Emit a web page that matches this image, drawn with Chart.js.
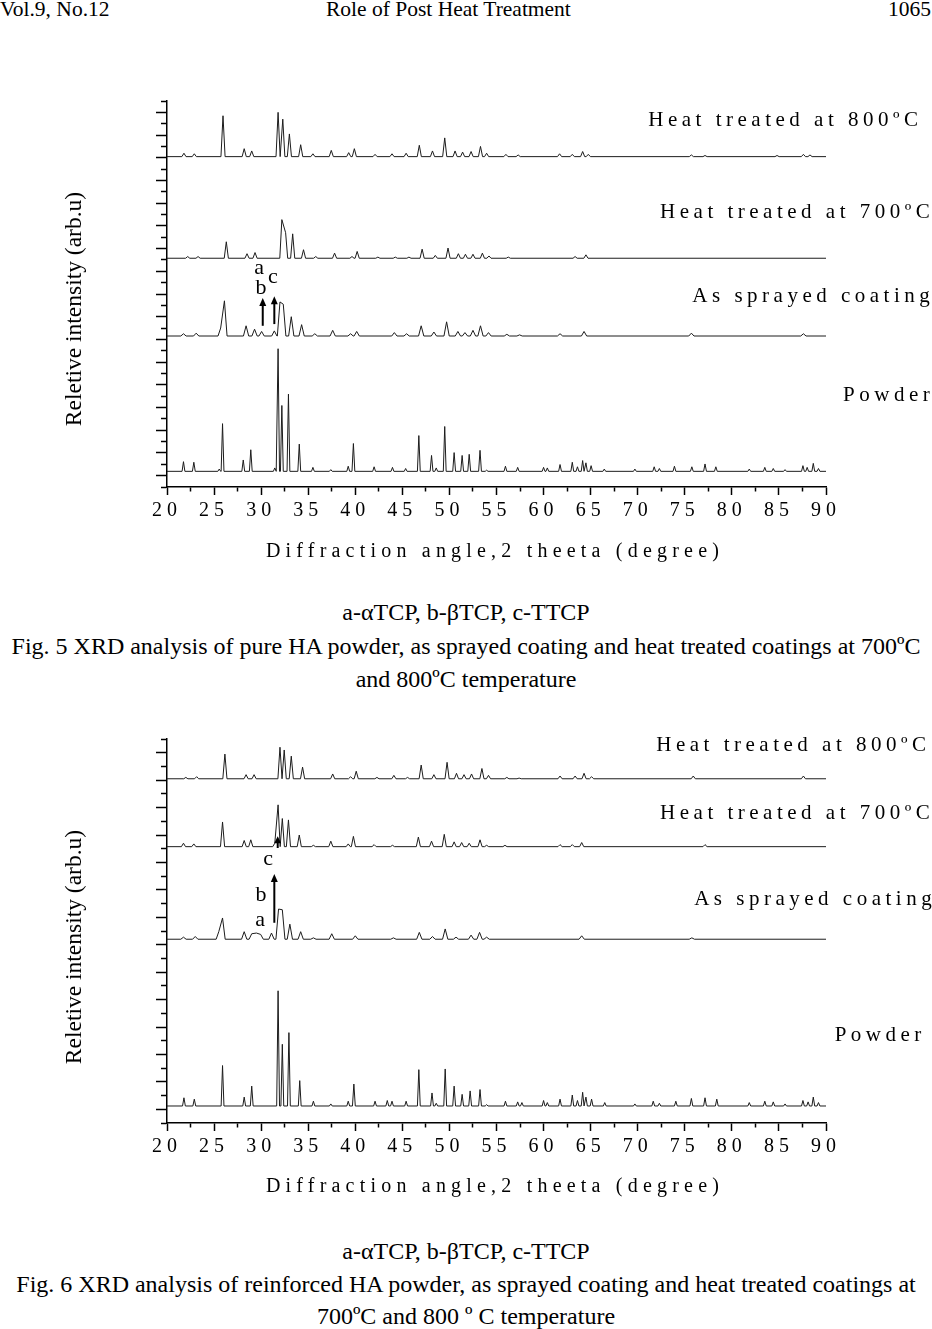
<!DOCTYPE html>
<html>
<head>
<meta charset="utf-8">
<script src="https://cdn.jsdelivr.net/npm/chart.js@4.4.0/dist/chart.umd.min.js"></script>
<style>
    html, body { margin: 0; padding: 0; background: #fff; }
    body {
        width: 932px; height: 1329px; position: relative; overflow: hidden;
        font-family: "Liberation Serif", "Times New Roman", serif; color: #000;
    }
    .txt { position: absolute; white-space: nowrap; line-height: 1; }
    .center { left: 0; width: 932px; text-align: center; }
    .head { font-size: 21.5px; top: -1px; }
    .caption { font-size: 24px; }
    .ytitle {
        position: absolute; width: 300px; height: 26px; line-height: 26px;
        font-size: 23.5px; text-align: center; white-space: nowrap;
        transform: rotate(-90deg);
    }
    .xtitle { font-size: 20px; letter-spacing: 5.2px; line-height: 24px; left: 29px; }
    canvas { position: absolute; left: 0; }
</style>
</head>
<body>

<div class="txt head" style="left:0;">Vol.9, No.12</div>
<div class="txt head" style="left:326px;">Role of Post Heat Treatment</div>
<div class="txt head" style="right:1px;">1065</div>

<canvas id="fig5" width="932" height="520" style="top:60px;"></canvas>
<div class="ytitle" style="left:-77px; top:296px;">Reletive intensity (arb.u)</div>
<div class="txt xtitle center" style="top:538px;">Diffraction angle,2 theeta (degree)</div>
<div class="txt caption center" style="top:600px;">a-αTCP, b-βTCP, c-TTCP</div>
<div class="txt caption center" style="top:634px;">Fig. 5 XRD analysis of pure HA powder, as sprayed coating and heat treated coatings at 700ºC</div>
<div class="txt caption center" style="top:667px;">and 800ºC temperature</div>

<canvas id="fig6" width="932" height="520" style="top:700px;"></canvas>
<div class="ytitle" style="left:-77px; top:934px;">Reletive intensity (arb.u)</div>
<div class="txt xtitle center" style="top:1173px;">Diffraction angle,2 theeta (degree)</div>
<div class="txt caption center" style="top:1239px;">a-αTCP, b-βTCP, c-TTCP</div>
<div class="txt caption center" style="top:1272px;">Fig. 6 XRD analysis of reinforced HA powder, as sprayed coating and heat treated coatings at</div>
<div class="txt caption center" style="top:1304px;">700ºC and 800 º C temperature</div>

<script>
// 2 theta range
const angleMin = 20;
const angleMax = 90;

// Peaks: [2 theta, height above the trace's own baseline]

// Fig. 5 - pure HA
const fig5Heat800Peaks = [
    [21.8, 0.3], [22.9, 0.25], [25.95, 3.6], [28.2, 0.7], [29.0, 0.5], [31.8, 3.9], [32.3, 3.3],
    [33.0, 2.0], [34.2, 1.05], [35.5, 0.25], [37.45, 0.55], [39.3, 0.35], [39.9, 0.7], [42.1, 0.2],
    [43.9, 0.25], [45.4, 0.3], [46.8, 1.0], [48.2, 0.5], [49.5, 1.65], [50.6, 0.5], [51.4, 0.4],
    [52.3, 0.45], [53.3, 0.9], [53.95, 0.3], [56.0, 0.2], [57.3, 0.15], [61.7, 0.25], [63.05, 0.2],
    [64.15, 0.45], [64.75, 0.2], [75.7, 0.15], [77.15, 0.1], [84.8, 0.1], [87.6, 0.2], [88.3, 0.15]
];
const fig5Heat700Peaks = [
    [22.2, 0.15], [23.3, 0.15], [26.3, 1.45], [28.5, 0.4], [29.35, 0.5], [32.2, 3.4], [32.6, 2.25],
    [33.35, 2.15], [34.5, 0.75], [35.8, 0.15], [37.8, 0.45], [39.65, 0.15], [40.2, 0.6], [42.4, 0.1],
    [44.25, 0.1], [45.7, 0.1], [47.1, 0.8], [48.5, 0.25], [49.85, 0.9], [50.95, 0.4], [51.7, 0.35],
    [52.5, 0.35], [53.5, 0.45], [54.2, 0.2], [56.25, 0.1], [63.35, 0.15], [64.5, 0.3]
];
const fig5SprayedPeaks = [
    [21.75, 0.2], [23.1, 0.25], [25.7, 0.7], [26.1, 3.1], [28.4, 0.9], [29.3, 0.6], [30.05, 0.4],
    [31.4, 0.45], [32.0, 3.0], [32.35, 2.8], [33.2, 1.7], [34.3, 1.0], [35.7, 0.2], [37.6, 0.5],
    [39.5, 0.2], [40.15, 0.4], [44.15, 0.3], [45.45, 0.2], [47.0, 0.9], [48.35, 0.35], [49.7, 1.25],
    [50.9, 0.4], [51.65, 0.3], [52.5, 0.5], [53.3, 0.9], [54.15, 0.3], [56.1, 0.15], [57.45, 0.1],
    [61.75, 0.2], [64.3, 0.4], [75.7, 0.25], [87.6, 0.2]
];
const fig5PowderPeaks = [
    [21.75, 0.85], [22.85, 0.8], [25.55, 0.2], [25.9, 4.2], [28.1, 1.0], [28.9, 1.9], [31.45, 0.3],
    [31.8, 10.8], [32.2, 5.8], [32.9, 6.8], [34.05, 2.4], [35.5, 0.35], [37.4, 0.15], [39.25, 0.45],
    [39.8, 2.45], [42.0, 0.4], [43.95, 0.35], [45.35, 0.25], [46.75, 3.15], [48.1, 1.4], [48.6, 0.3],
    [49.5, 3.95], [50.5, 1.65], [51.35, 1.4], [52.1, 1.5], [53.25, 1.85], [53.95, 0.1], [55.95, 0.45],
    [57.25, 0.35], [60.0, 0.35], [60.4, 0.3], [61.75, 0.6], [63.05, 0.8], [63.6, 0.4], [64.15, 0.95],
    [64.5, 0.75], [65.05, 0.5], [66.45, 0.2], [69.7, 0.2], [71.75, 0.4], [72.3, 0.25], [73.9, 0.45],
    [75.75, 0.4], [77.15, 0.65], [78.3, 0.4], [81.85, 0.2], [83.5, 0.35], [84.4, 0.25], [85.65, 0.15],
    [87.55, 0.5], [88.0, 0.35], [88.65, 0.7], [89.2, 0.25]
];
// stacking offsets: 800, 700, as sprayed, powder
const fig5Baselines = [29.1, 20.15, 13.3, 1.38];

// Fig. 6 - reinforced HA
const fig6Heat800Peaks = [
    [22.0, 0.1], [23.15, 0.15], [26.15, 1.8], [28.4, 0.3], [29.25, 0.3], [32.0, 2.3], [32.45, 2.1],
    [33.2, 1.65], [34.4, 0.85], [37.6, 0.35], [39.5, 0.15], [40.1, 0.55], [42.3, 0.1], [44.1, 0.25],
    [45.55, 0.1], [47.0, 1.0], [48.35, 0.3], [49.75, 1.2], [50.75, 0.4], [51.55, 0.3], [52.35, 0.35],
    [53.45, 0.75], [54.15, 0.25], [56.1, 0.1], [57.4, 0.05], [61.75, 0.2], [63.35, 0.2], [64.3, 0.4],
    [65.1, 0.15], [75.9, 0.2], [87.6, 0.2]
];
const fig6Heat700Peaks = [
    [21.75, 0.25], [22.85, 0.2], [25.9, 1.8], [28.2, 0.45], [28.9, 0.5], [31.45, 0.25], [31.8, 3.05],
    [32.25, 2.05], [32.9, 1.95], [34.05, 0.85], [35.55, 0.1], [37.4, 0.4], [39.25, 0.2], [39.8, 0.75],
    [42.0, 0.15], [43.95, 0.1], [46.7, 0.7], [48.1, 0.4], [49.45, 0.9], [50.5, 0.35], [51.3, 0.3],
    [52.1, 0.25], [53.25, 0.5], [53.95, 0.1], [55.9, 0.1], [61.75, 0.15], [63.05, 0.15], [64.05, 0.3],
    [77.15, 0.15]
];
const fig6SprayedPeaks = [
    [21.75, 0.15], [23.0, 0.2], [25.5, 0.55], [25.9, 1.55], [28.2, 0.55], [29.0, 0.4], [29.5, 0.45],
    [29.95, 0.35], [31.1, 0.45], [31.85, 2.2], [32.25, 2.15], [33.05, 1.1], [34.2, 0.55], [35.55, 0.1],
    [37.5, 0.4], [40.0, 0.25], [44.05, 0.1], [46.8, 0.5], [48.2, 0.2], [49.55, 0.75], [50.7, 0.15],
    [52.3, 0.3], [53.2, 0.5], [53.95, 0.15], [64.05, 0.25], [75.75, 0.1]
];
const fig6PowderPeaks = [
    [21.8, 0.6], [22.9, 0.5], [25.9, 2.95], [28.2, 0.65], [29.0, 1.45], [31.8, 8.4], [32.25, 4.5],
    [32.95, 5.35], [34.1, 1.85], [35.55, 0.35], [37.4, 0.15], [39.25, 0.35], [39.85, 1.6], [42.1, 0.35],
    [43.4, 0.4], [43.9, 0.35], [45.4, 0.35], [46.75, 2.65], [48.15, 0.95], [48.6, 0.2], [49.55, 2.7],
    [50.5, 1.45], [51.35, 0.85], [52.2, 1.1], [53.25, 1.2], [53.95, 0.1], [55.95, 0.35], [57.25, 0.3],
    [57.7, 0.25], [60.0, 0.4], [60.4, 0.25], [61.75, 0.5], [63.05, 0.8], [63.6, 0.4], [64.15, 1.0],
    [64.5, 0.65], [65.1, 0.5], [66.5, 0.25], [69.7, 0.15], [71.65, 0.35], [72.3, 0.2], [74.05, 0.35],
    [75.7, 0.55], [77.15, 0.6], [78.4, 0.5], [81.85, 0.25], [83.5, 0.35], [84.4, 0.3], [85.65, 0.15],
    [87.55, 0.4], [88.1, 0.3], [88.65, 0.65], [89.2, 0.25]
];
const fig6Baselines = [25.1, 20.15, 13.4, 1.24];

// curve names: [text, 2 theta of right end, y]
const fig5Labels = [
    ['Heat treated at 800ºC', 100.25, 32.3],
    ['Heat treated at 700ºC', 101.5, 24.2],
    ['As sprayed coating', 101.5, 16.8],
    ['Powder', 101.5, 8.1]
];
const fig6Labels = [
    ['Heat treated at 800ºC', 101.1, 27.5],
    ['Heat treated at 700ºC', 101.5, 22.6],
    ['As sprayed coating', 101.7, 16.3],
    ['Powder', 100.6, 6.35]
];

// phase marks: [letter, 2 theta, y]  and arrows: [2 theta, y from, y to]
const fig5Marks = [['a', 29.78, 19.3], ['b', 29.99, 17.5], ['c', 31.26, 18.5]];
const fig5Arrows = [[30.17, 14.2, 16.65], [31.4, 14.35, 16.8]];
const fig6Marks = [['c', 30.73, 19.2], ['b', 29.99, 16.6], ['a', 29.9, 14.8]];
const fig6Arrows = [[31.4, 14.6, 18.15], [31.76, 20.05, 20.9]];

const SERIF = '"Liberation Serif", "Times New Roman", serif';

/**
 * Turn a peak list into a polyline: baseline foot, apex, baseline foot.
 * Close peaks are joined apex to apex.
 */
function buildTrace(peaks, base, halfWidth) {
    const pts = [{ x: angleMin, y: base }];
    peaks.forEach(([angle, height], i) => {
        const prev = peaks[i - 1];
        const next = peaks[i + 1];
        if (!prev || prev[0] + halfWidth < angle - halfWidth) pts.push({ x: angle - halfWidth, y: base });
        pts.push({ x: angle, y: base + height });
        if (!next || angle + halfWidth < next[0] - halfWidth) pts.push({ x: angle + halfWidth, y: base });
    });
    pts.push({ x: angleMax, y: base });
    return pts;
}

// letter-spaced tick labels, plain axis drawing otherwise
const spacingPlugin = {
    id: 'spacing',
    beforeDraw(chart) {
        chart.ctx.letterSpacing = '5px';
    },
    afterDraw(chart) {
        chart.ctx.letterSpacing = '0px';
    }
};

const annotationPlugin = {
    id: 'annotations',
    afterDraw(chart, args, opts) {
        const { ctx, scales: { x, y } } = chart;
        ctx.save();
        ctx.fillStyle = '#000';
        ctx.strokeStyle = '#000';

        // curve names
        ctx.font = '21px ' + SERIF;
        ctx.letterSpacing = '4.5px';
        ctx.textAlign = 'right';
        ctx.textBaseline = 'middle';
        opts.labels.forEach(([text, a, v]) => {
            ctx.fillText(text, x.getPixelForValue(a), y.getPixelForValue(v));
        });

        // phase letters
        ctx.letterSpacing = '0px';
        ctx.font = '22px ' + SERIF;
        ctx.textAlign = 'center';
        opts.marks.forEach(([text, a, v]) => {
            ctx.fillText(text, x.getPixelForValue(a), y.getPixelForValue(v));
        });

        // arrows
        ctx.lineWidth = 2;
        opts.arrows.forEach(([a, v0, v1]) => {
            const px = x.getPixelForValue(a);
            const py0 = y.getPixelForValue(v0);
            const py1 = y.getPixelForValue(v1);
            const head = Math.min(8, (py0 - py1) * 0.6);
            ctx.beginPath();
            ctx.moveTo(px, py0);
            ctx.lineTo(px, py1 + head - 1);
            ctx.stroke();
            ctx.beginPath();
            ctx.moveTo(px, py1);
            ctx.lineTo(px - 3.5, py1 + head);
            ctx.lineTo(px + 3.5, py1 + head);
            ctx.closePath();
            ctx.fill();
        });
        ctx.restore();
    }
};

function makeChart(id, cfg) {
    const widths = [0.22, 0.22, 0.28, 0.15];
    return new Chart(document.getElementById(id), {
        type: 'line',
        data: {
            datasets: cfg.peaks.map((p, i) => ({
                data: buildTrace(p, cfg.baselines[i], widths[i]),
                borderColor: '#1c1c1c',
                borderWidth: 1,
                pointRadius: 0,
                tension: 0,
                fill: false
            }))
        },
        options: {
            responsive: false,
            animation: false,
            devicePixelRatio: 1,
            events: [],
            layout: { padding: { left: 60, right: 106, top: cfg.padTop, bottom: 0 } },
            plugins: {
                legend: { display: false },
                tooltip: { enabled: false },
                annotations: { labels: cfg.labels, marks: cfg.marks, arrows: cfg.arrows }
            },
            scales: {
                x: {
                    type: 'linear',
                    min: angleMin,
                    max: angleMax,
                    afterFit: s => { s.height = cfg.xHeight; },
                    border: { color: '#000', width: 1.5 },
                    grid: {
                        drawOnChartArea: false,
                        tickLength: 8,
                        tickColor: '#000',
                        tickWidth: 1.5,
                        tickBorderDash: [8, 4],
                        tickBorderDashOffset: c => (c.tick && c.tick.value % 5 === 0 ? 0 : 4)
                    },
                    ticks: {
                        stepSize: 2.5,
                        autoSkip: false,
                        maxRotation: 0,
                        padding: 4,
                        color: '#000',
                        font: { family: SERIF, size: 20 },
                        callback: v => (v % 5 === 0 ? v : '')
                    }
                },
                y: {
                    min: 0,
                    max: cfg.yMax,
                    afterFit: s => { s.width = 107; },
                    border: { color: '#000', width: 1.5 },
                    grid: {
                        drawOnChartArea: false,
                        tickLength: 11,
                        tickColor: '#000',
                        tickWidth: 1.5,
                        tickBorderDash: [11, 5],
                        tickBorderDashOffset: c => (c.tick && c.tick.value % 2 === 1 ? 0 : 11)
                    },
                    ticks: { stepSize: 1, display: false }
                }
            }
        },
        plugins: [spacingPlugin, annotationPlugin]
    });
}

makeChart('fig5', {
    peaks: [fig5Heat800Peaks, fig5Heat700Peaks, fig5SprayedPeaks, fig5PowderPeaks],
    baselines: fig5Baselines,
    labels: fig5Labels,
    marks: fig5Marks,
    arrows: fig5Arrows,
    yMax: 34,
    padTop: 41,
    xHeight: 93
});

makeChart('fig6', {
    peaks: [fig6Heat800Peaks, fig6Heat700Peaks, fig6SprayedPeaks, fig6PowderPeaks],
    baselines: fig6Baselines,
    labels: fig6Labels,
    marks: fig6Marks,
    arrows: fig6Arrows,
    yMax: 28,
    padTop: 39,
    xHeight: 97
});
</script>
</body>
</html>
